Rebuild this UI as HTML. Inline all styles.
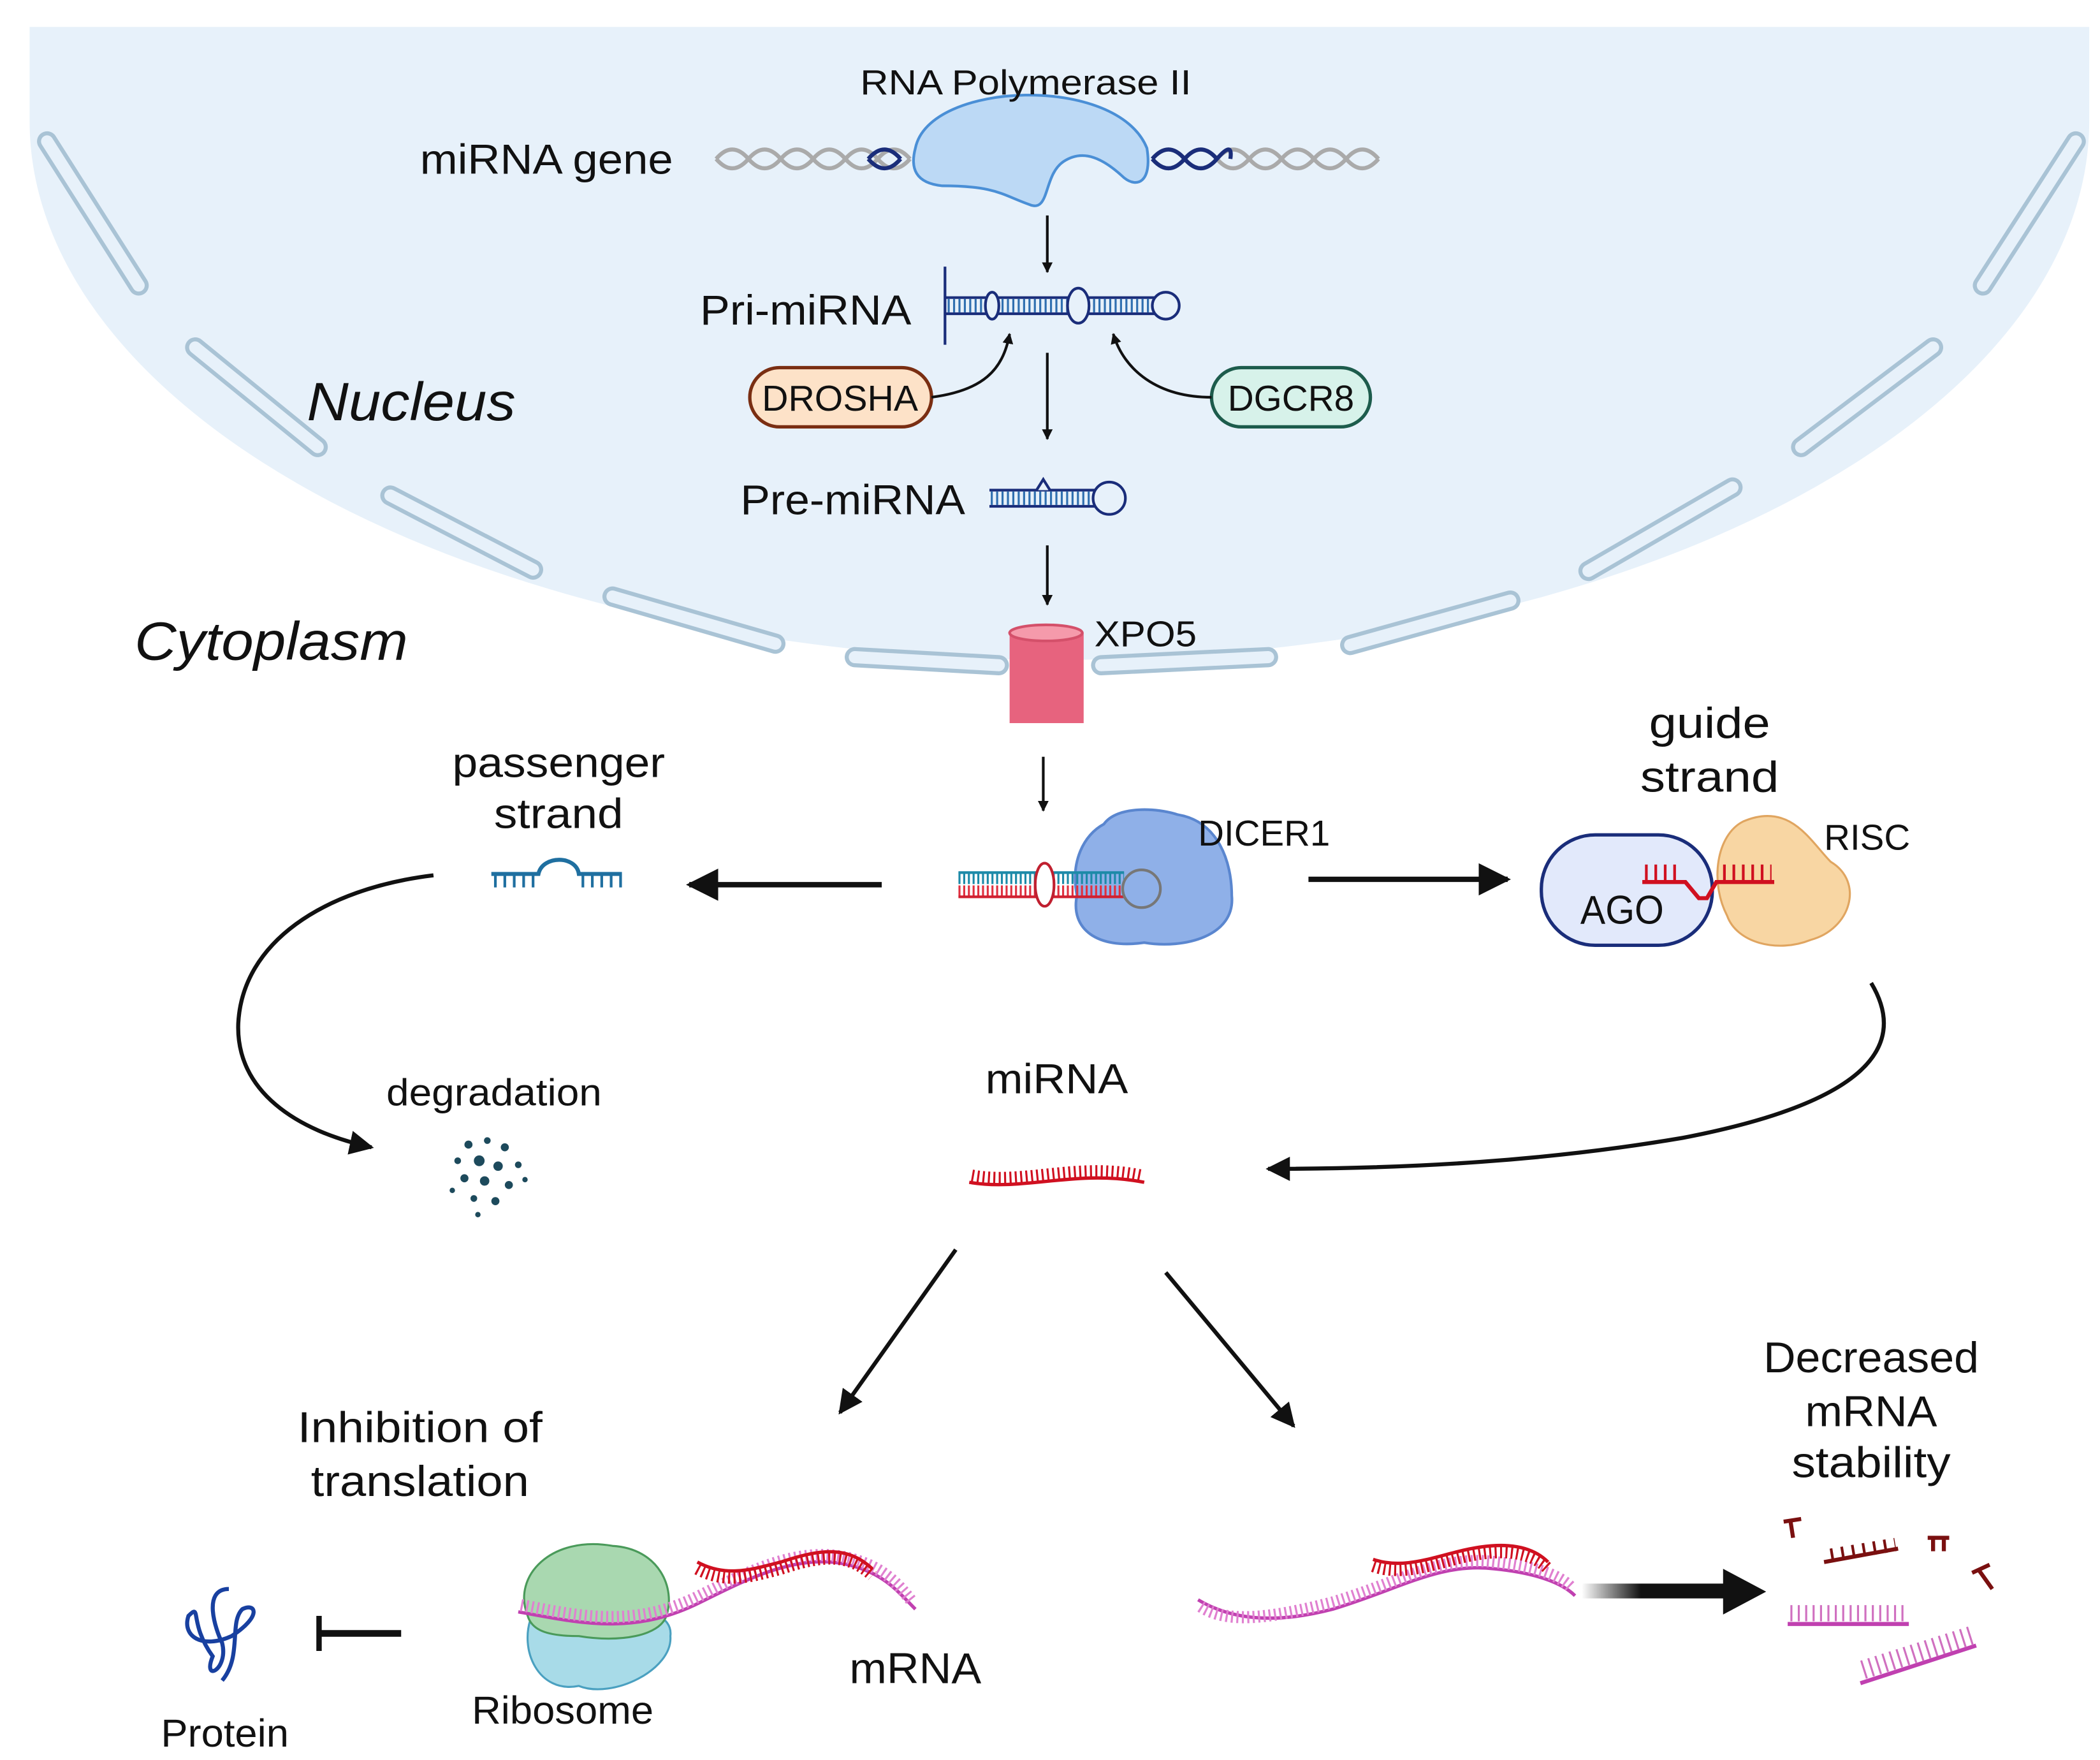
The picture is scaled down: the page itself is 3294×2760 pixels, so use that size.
<!DOCTYPE html>
<html><head><meta charset="utf-8"><style>
html,body{margin:0;padding:0;background:#fff;}
svg{display:block;}
text{font-family:"Liberation Sans",sans-serif;fill:#111;}
</style></head><body>
<svg width="3294" height="2760" viewBox="0 0 1560 1307" preserveAspectRatio="none" xmlns="http://www.w3.org/2000/svg">
<defs>
<marker id="ah" viewBox="0 0 10 10" refX="9" refY="5" markerWidth="6" markerHeight="6" orient="auto-start-reverse"><path d="M0,0 L10,5 L0,10 z" fill="#111"/></marker>
<marker id="ahb" viewBox="0 0 10 10" refX="9" refY="5" markerWidth="4" markerHeight="4" orient="auto"><path d="M0,0 L10,5 L0,10 z" fill="#111"/></marker>
<linearGradient id="gar" x1="0" x2="1"><stop offset="0" stop-color="#fff"/><stop offset="0.4" stop-color="#111"/></linearGradient>
</defs>
<!-- nucleus -->
<path d="M22,20 L1552,20 L1552,90 A765,400 0 0 1 22,90 Z" fill="#e7f1fa"/>
<g stroke="#a9c3d5" stroke-width="15" stroke-linecap="round" fill="none">
<path d="M35,105 L103,212"/><path d="M145,258 L236,332"/><path d="M290,368 L396,423"/><path d="M455,443 L576,478"/><path d="M635,488 L742,494"/><path d="M818,494 L942,488"/><path d="M1003,479 L1122,446"/><path d="M1180,424 L1287,362"/><path d="M1338,332 L1436,258"/><path d="M1473,212 L1542,105"/>
</g>
<g stroke="#e7f1fa" stroke-width="9" stroke-linecap="round" fill="none">
<path d="M35,105 L103,212"/><path d="M145,258 L236,332"/><path d="M290,368 L396,423"/><path d="M455,443 L576,478"/><path d="M635,488 L742,494"/><path d="M818,494 L942,488"/><path d="M1003,479 L1122,446"/><path d="M1180,424 L1287,362"/><path d="M1338,332 L1436,258"/><path d="M1473,212 L1542,105"/>
</g>
<!-- DNA -->
<path d="M532,118 q12,-14 24,0 t24,0 t24,0 t24,0 t24,0 t24,0" stroke="#aaa" stroke-width="3" fill="none"/>
<path d="M532,118 q12,14 24,0 t24,0 t24,0 t24,0 t24,0 t24,0" stroke="#aaa" stroke-width="3" fill="none"/>
<path d="M856,118 q12,-14 24,0 t24,0 t24,0 t24,0 t24,0 t24,0 t24,0" stroke="#aaa" stroke-width="3" fill="none"/>
<path d="M856,118 q12,14 24,0 t24,0 t24,0 t24,0 t24,0 t24,0 t24,0" stroke="#aaa" stroke-width="3" fill="none"/>
<path d="M645,118 q12,-14 24,0 M645,118 q12,14 24,0 M856,118 q12,-14 24,0 t24,0 t10,0 M856,118 q12,14 24,0 t24,0" stroke="#1a2d7a" stroke-width="3" fill="none"/>
<!-- polymerase -->
<path d="M680,110 C690,60 830,55 852,110 C856,135 845,140 835,132 C820,118 805,110 790,120 C775,130 780,158 765,152 C745,145 740,138 700,138 C680,136 676,125 680,110 Z" fill="#bcd9f5" stroke="#4a8fd6" stroke-width="2"/>
<text x="762" y="70" font-size="26" text-anchor="middle" textLength="246" lengthAdjust="spacingAndGlyphs">RNA Polymerase II</text>
<text x="312" y="129" font-size="31" textLength="188" lengthAdjust="spacingAndGlyphs">miRNA gene</text>
<line x1="778" y1="160" x2="778" y2="202" stroke="#111" stroke-width="2" marker-end="url(#ahb)"/>
<!-- pri -->
<text x="520" y="241" font-size="31" textLength="157" lengthAdjust="spacingAndGlyphs">Pri-miRNA</text>
<line x1="702" y1="198" x2="702" y2="256" stroke="#1a2d7a" stroke-width="2"/>
<path d="M702,221 H860 M702,233 H860" stroke="#1a2d7a" stroke-width="2"/>
<path d="M704,227 H858" stroke="#2f6fb0" stroke-width="10" stroke-dasharray="1.5 2.5"/>
<circle cx="866" cy="227" r="10" fill="#e7f1fa" stroke="#1a2d7a" stroke-width="2"/>
<ellipse cx="737" cy="227" rx="5" ry="10" fill="#e7f1fa" stroke="#1a2d7a" stroke-width="2"/>
<ellipse cx="801" cy="227" rx="8" ry="13" fill="#e7f1fa" stroke="#1a2d7a" stroke-width="2"/>
<!-- drosha / dgcr8 -->
<rect x="557" y="273" width="135" height="44" rx="22" fill="#fde2c8" stroke="#7a2e12" stroke-width="2.5"/>
<text x="624" y="305" font-size="27" text-anchor="middle" textLength="116" lengthAdjust="spacingAndGlyphs">DROSHA</text>
<rect x="900" y="273" width="118" height="44" rx="22" fill="#d7f2ea" stroke="#1d5c4c" stroke-width="2.5"/>
<text x="959" y="305" font-size="27" text-anchor="middle" textLength="94" lengthAdjust="spacingAndGlyphs">DGCR8</text>
<path d="M692,295 C730,290 745,275 750,248" stroke="#111" stroke-width="2" fill="none" marker-end="url(#ahb)"/>
<path d="M900,295 C860,295 835,275 827,248" stroke="#111" stroke-width="2" fill="none" marker-end="url(#ahb)"/>
<line x1="778" y1="262" x2="778" y2="326" stroke="#111" stroke-width="2" marker-end="url(#ahb)"/>
<text x="228" y="312" font-size="40" font-style="italic" textLength="155" lengthAdjust="spacingAndGlyphs">Nucleus</text>
<!-- pre -->
<text x="550" y="382" font-size="31" textLength="167" lengthAdjust="spacingAndGlyphs">Pre-miRNA</text>
<path d="M735,364 H815 M735,376 H815" stroke="#1a2d7a" stroke-width="2"/>
<path d="M736,370 H814" stroke="#2f6fb0" stroke-width="10" stroke-dasharray="1.5 2.5"/>
<path d="M770,364 l5,-8 l5,8" fill="#e7f1fa" stroke="#1a2d7a" stroke-width="2"/>
<circle cx="824" cy="370" r="12" fill="#e7f1fa" stroke="#1a2d7a" stroke-width="2"/>
<line x1="778" y1="405" x2="778" y2="449" stroke="#111" stroke-width="2" marker-end="url(#ahb)"/>
<text x="100" y="490" font-size="40" font-style="italic" textLength="203" lengthAdjust="spacingAndGlyphs">Cytoplasm</text>
<!-- XPO5 -->
<rect x="750" y="470" width="55" height="67" fill="#e7637e"/>
<ellipse cx="777" cy="470" rx="27" ry="6" fill="#f59aab" stroke="#d4506a" stroke-width="2"/>
<text x="813" y="480" font-size="27" textLength="76" lengthAdjust="spacingAndGlyphs">XPO5</text>
<line x1="775" y1="562" x2="775" y2="602" stroke="#111" stroke-width="2" marker-end="url(#ahb)"/>
<!-- passenger -->
<text x="415" y="577" font-size="31" text-anchor="middle" textLength="158" lengthAdjust="spacingAndGlyphs">passenger</text>
<text x="415" y="615" font-size="31" text-anchor="middle" textLength="96" lengthAdjust="spacingAndGlyphs">strand</text>
<path d="M365,649 H400 C403,635 428,635 430,649 H462" stroke="#1f6fa0" stroke-width="3" fill="none"/>
<path d="M367,654 H398 M432,654 H462" stroke="#1f6fa0" stroke-width="10" stroke-dasharray="2 5"/>
<line x1="655" y1="657" x2="512" y2="657" stroke="#111" stroke-width="4" marker-end="url(#ah)"/>
<!-- dicer -->
<path d="M820,612 C830,598 860,600 875,605 C905,610 915,640 915,665 C918,695 880,705 850,700 C815,705 795,690 800,665 C795,640 805,620 820,612 Z" fill="#8fb0e8" stroke="#5a86cf" stroke-width="2"/>
<path d="M712,652 H835" stroke="#1d8aa8" stroke-width="9" stroke-dasharray="1.5 2"/>
<path d="M712,662 H835" stroke="#e03040" stroke-width="9" stroke-dasharray="1.5 2"/>
<path d="M712,648 H835" stroke="#1d8aa8" stroke-width="2"/>
<path d="M712,666 H835" stroke="#d02030" stroke-width="2"/>
<ellipse cx="776" cy="657" rx="7" ry="16" fill="#fff" stroke="#c02030" stroke-width="2"/>
<circle cx="848" cy="660" r="14" fill="#8fb0e8" stroke="#777" stroke-width="2"/>
<text x="890" y="628" font-size="27" textLength="98" lengthAdjust="spacingAndGlyphs">DICER1</text>
<line x1="972" y1="653" x2="1120" y2="653" stroke="#111" stroke-width="4" marker-end="url(#ah)"/>
<!-- AGO/RISC -->
<text x="1270" y="548" font-size="32" text-anchor="middle" textLength="90" lengthAdjust="spacingAndGlyphs">guide</text>
<text x="1270" y="588" font-size="32" text-anchor="middle" textLength="103" lengthAdjust="spacingAndGlyphs">strand</text>
<path d="M1295,610 C1330,595 1345,625 1360,640 C1385,655 1375,690 1345,698 C1320,708 1290,700 1283,680 C1270,655 1275,620 1295,610 Z" fill="#f8d6a3" stroke="#e0a560" stroke-width="1.5"/>
<rect x="1145" y="620" width="127" height="82" rx="40" fill="#e2e9fb" stroke="#1a2d7a" stroke-width="2.5"/>
<text x="1205" y="686" font-size="30" text-anchor="middle" textLength="62" lengthAdjust="spacingAndGlyphs">AGO</text>
<path d="M1220,655 H1252 L1262,667 L1268,667 L1275,655 H1318" stroke="#d01020" stroke-width="3" fill="none"/>
<path d="M1222,648 H1250 M1280,648 H1316" stroke="#d01020" stroke-width="12" stroke-dasharray="2 5"/>
<text x="1355" y="631" font-size="27" textLength="64" lengthAdjust="spacingAndGlyphs">RISC</text>
<!-- degradation curve -->
<path d="M322,650 C240,660 180,700 177,760 C175,810 220,840 276,852" stroke="#111" stroke-width="3" fill="none" marker-end="url(#ah)"/>
<text x="367" y="821" font-size="28" text-anchor="middle" textLength="160" lengthAdjust="spacingAndGlyphs">degradation</text>
<g fill="#1d4a5c">
<circle cx="348" cy="850" r="3"/><circle cx="362" cy="847" r="2.5"/><circle cx="375" cy="852" r="3"/><circle cx="340" cy="862" r="2.5"/><circle cx="356" cy="862" r="4"/><circle cx="370" cy="866" r="3.5"/><circle cx="385" cy="865" r="2.5"/><circle cx="345" cy="875" r="3"/><circle cx="360" cy="877" r="3.5"/><circle cx="378" cy="880" r="3"/><circle cx="336" cy="884" r="2"/><circle cx="352" cy="890" r="2.5"/><circle cx="368" cy="892" r="3"/><circle cx="390" cy="876" r="2"/><circle cx="355" cy="902" r="2"/>
</g>
<!-- miRNA -->
<text x="785" y="812" font-size="31" text-anchor="middle" textLength="106" lengthAdjust="spacingAndGlyphs">miRNA</text>
<path d="M720,878 C760,885 800,868 850,878" stroke="#d01020" stroke-width="2.5" fill="none"/>
<path d="M722,873 C760,880 800,863 848,873" stroke="#d01020" stroke-width="9" stroke-dasharray="1.5 2.5" fill="none"/>
<path d="M1390,730 C1420,780 1380,820 1250,845 C1150,862 1050,868 942,868" stroke="#111" stroke-width="3" fill="none" marker-end="url(#ah)"/>
<line x1="710" y1="928" x2="624" y2="1049" stroke="#111" stroke-width="3" marker-end="url(#ah)"/>
<line x1="866" y1="945" x2="961" y2="1059" stroke="#111" stroke-width="3" marker-end="url(#ah)"/>
<!-- bottom labels -->
<text x="312" y="1071" font-size="32" text-anchor="middle" textLength="182" lengthAdjust="spacingAndGlyphs">Inhibition of</text>
<text x="312" y="1111" font-size="32" text-anchor="middle" textLength="162" lengthAdjust="spacingAndGlyphs">translation</text>
<text x="1390" y="1019" font-size="32" text-anchor="middle" textLength="160" lengthAdjust="spacingAndGlyphs">Decreased</text>
<text x="1390" y="1059" font-size="32" text-anchor="middle" textLength="98" lengthAdjust="spacingAndGlyphs">mRNA</text>
<text x="1390" y="1097" font-size="32" text-anchor="middle" textLength="118" lengthAdjust="spacingAndGlyphs">stability</text>
<!-- protein -->
<path d="M170,1180 C150,1180 160,1210 165,1220 C170,1240 150,1250 158,1230 C140,1205 150,1190 140,1200 C135,1215 150,1225 172,1215 C195,1200 190,1190 180,1195 C170,1205 180,1230 165,1248" stroke="#1840a0" stroke-width="3" fill="none"/>
<text x="167" y="1297" font-size="29" text-anchor="middle" textLength="95" lengthAdjust="spacingAndGlyphs">Protein</text>
<line x1="237" y1="1200" x2="237" y2="1226" stroke="#111" stroke-width="4"/>
<line x1="237" y1="1213" x2="298" y2="1213" stroke="#111" stroke-width="5"/>
<!-- ribosome -->
<path d="M395,1200 C385,1225 400,1258 430,1252 C455,1262 500,1240 498,1215 C500,1200 480,1192 450,1195 C420,1190 400,1190 395,1200 Z" fill="#a8dbe8" stroke="#4aa0c0" stroke-width="1.5"/>
<path d="M392,1200 C380,1170 410,1140 455,1148 C490,1150 502,1180 495,1200 C490,1215 460,1220 430,1215 C405,1215 395,1210 392,1200 Z" fill="#a9d8b0" stroke="#4a9a5a" stroke-width="1.5"/>
<text x="418" y="1280" font-size="29" text-anchor="middle" textLength="135" lengthAdjust="spacingAndGlyphs">Ribosome</text>
<path d="M385,1197 C430,1205 470,1215 520,1190 C560,1170 600,1150 640,1165 C660,1172 670,1185 680,1195" stroke="#c040b0" stroke-width="2.5" fill="none"/>
<path d="M387,1192 C430,1200 470,1210 520,1185 C560,1165 600,1145 640,1160 C660,1167 670,1180 678,1190" stroke="#e080d0" stroke-width="9" stroke-dasharray="1.5 2.5" fill="none"/>
<path d="M518,1160 C540,1172 560,1165 580,1160 C610,1150 630,1148 648,1165" stroke="#d01020" stroke-width="2.5" fill="none"/>
<path d="M518,1165 C540,1177 560,1170 580,1165 C610,1155 630,1153 648,1170" stroke="#d01020" stroke-width="9" stroke-dasharray="1.5 2.5" fill="none"/>
<text x="680" y="1250" font-size="32" text-anchor="middle" textLength="98" lengthAdjust="spacingAndGlyphs">mRNA</text>
<!-- right mRNA -->
<path d="M890,1188 C910,1200 940,1208 990,1195 C1040,1180 1070,1160 1110,1165 C1140,1168 1160,1175 1170,1185" stroke="#c040b0" stroke-width="2.5" fill="none"/>
<path d="M892,1193 C910,1205 940,1203 990,1190 C1040,1175 1070,1155 1110,1160 C1140,1163 1160,1170 1168,1180" stroke="#e080d0" stroke-width="9" stroke-dasharray="1.5 2.5" fill="none"/>
<path d="M1020,1158 C1040,1165 1060,1158 1080,1153 C1110,1145 1135,1145 1150,1160" stroke="#d01020" stroke-width="2.5" fill="none"/>
<path d="M1020,1163 C1040,1170 1060,1163 1080,1158 C1110,1150 1135,1150 1150,1165" stroke="#d01020" stroke-width="9" stroke-dasharray="1.5 2.5" fill="none"/>
<rect x="1175" y="1176" width="110" height="11" fill="url(#gar)"/>
<path d="M1280,1165 L1312,1182 L1280,1199 Z" fill="#111"/>
<!-- fragments -->
<path d="M1355,1160 L1410,1150" stroke="#7a1010" stroke-width="3"/>
<path d="M1360,1155 L1408,1147" stroke="#7a1010" stroke-width="10" stroke-dasharray="2 6"/>
<path d="M1432,1142 H1448 M1436,1142 V1152 M1444,1142 V1152" stroke="#7a1010" stroke-width="3"/>
<path d="M1325,1130 L1338,1128 M1330,1129 L1332,1142" stroke="#7a1010" stroke-width="3"/>
<path d="M1465,1168 L1478,1162 M1470,1166 L1480,1180" stroke="#7a1010" stroke-width="3"/>
<path d="M1328,1206 H1418" stroke="#c040b0" stroke-width="3"/>
<path d="M1330,1198 H1416" stroke="#d070c0" stroke-width="12" stroke-dasharray="1.5 4"/>
<path d="M1382,1250 L1468,1222" stroke="#c040b0" stroke-width="3"/>
<path d="M1384,1240 L1466,1214" stroke="#d070c0" stroke-width="14" stroke-dasharray="1.5 4"/>
</svg>
</body></html>
